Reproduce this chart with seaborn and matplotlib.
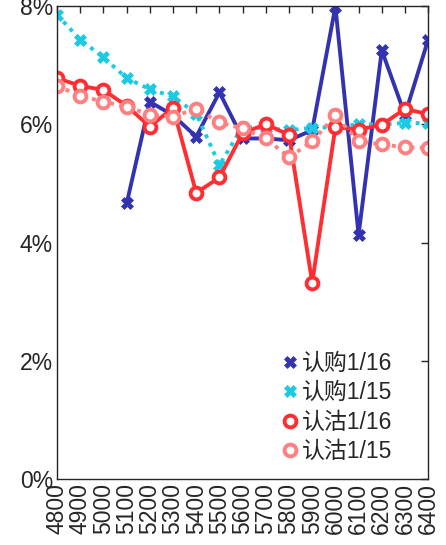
import numpy as np
import pandas as pd
import matplotlib
matplotlib.use("Agg")
import matplotlib.pyplot as plt
import seaborn as sns
from matplotlib.lines import Line2D
from matplotlib.ticker import FuncFormatter

sns.set_theme(style="white")
plt.rcParams['font.family'] = ['Liberation Sans', 'Noto Sans CJK SC', 'DejaVu Sans']

strikes = [4800, 4900, 5000, 5100, 5200, 5300, 5400, 5500, 5600, 5700,
           5800, 5900, 6000, 6100, 6200, 6300, 6400]
call_0116 = [np.nan, np.nan, np.nan, 4.66, 6.38, 6.15, 5.79, 6.54, 5.76, 5.76,
             5.73, 5.90, 7.99, 4.13, 7.25, 6.16, 7.43]
call_0115 = [7.85, 7.43, 7.13, 6.78, 6.59, 6.47, 6.18, 5.31, 5.96, 5.93,
             5.90, 5.94, 5.95, 6.00, 6.00, 6.02, 6.02]
put_0116 = [6.78, 6.65, 6.58, 6.31, 5.96, 6.28, 4.84, 5.10, 5.85, 6.00,
            5.82, 3.32, 5.95, 5.91, 5.99, 6.26, 6.17]
put_0115 = [6.65, 6.48, 6.38, 6.30, 6.16, 6.13, 6.26, 6.03, 5.93, 5.76,
            5.44, 5.71, 6.15, 5.71, 5.66, 5.61, 5.60]
labels = ['认购1/16', '认购1/15', '认沽1/16', '认沽1/15']

series = [call_0116, call_0115, put_0116, put_0115]
colors = ['#3333B2', '#1CCBE3', '#FF2E33', '#FF8080']
styles = ['-', (0, (1, 1.4)), '-', (0, (1, 1.4))]
markers = ['X', 'X', 'o', 'o']

fig = plt.figure(figsize=(4.46, 5.45), dpi=100)
ax = fig.add_axes([0.128, 0.121, 0.832, 0.868])

def marker_kw(m, c):
    if m == 'o':
        return dict(marker='o', markersize=8.5, markerfacecolor='white',
                    markeredgecolor=c, markeredgewidth=2.8)
    return dict(marker='X', markersize=8, markerfacecolor=c,
                markeredgecolor=c, markeredgewidth=0.5)

for vals, c, ls, m, lab in zip(series, colors, styles, markers, labels):
    df = pd.DataFrame({'strike': strikes, 'v': np.array(vals) / 100.0})
    df = df.dropna()
    sns.lineplot(data=df, x='strike', y='v', ax=ax, color=c, linewidth=2.8,
                 linestyle=ls, legend=False, **marker_kw(m, c))

ax.set_xlim(4800, 6400)
ax.set_ylim(0, 0.08)
ax.set_xticks(strikes)
ax.set_xticklabels([str(s) for s in strikes], rotation=90)
ax.set_yticks([0, 0.02, 0.04, 0.06, 0.08])
ax.yaxis.set_major_formatter(FuncFormatter(lambda v, p: f"{v*100:.0f}%"))
ax.set_xlabel('')
ax.set_ylabel('')
ax.tick_params(axis='both', direction='in', length=5, width=1, colors='#262626',
               labelsize=16.5, top=True, right=True, pad=3)
for sp in ax.spines.values():
    sp.set_color('#262626')
    sp.set_linewidth(1)

handles = [Line2D([], [], linestyle='none', **marker_kw(m, c))
           for c, m in zip(colors, markers)]
ax.legend(handles, labels, loc='lower left', bbox_to_anchor=(0.56, 0.0),
          frameon=False, fontsize=16.5, handlelength=0.8, handletextpad=0.1,
          labelspacing=0.28, borderpad=0.2)

fig.savefig('out.png', dpi=100)
